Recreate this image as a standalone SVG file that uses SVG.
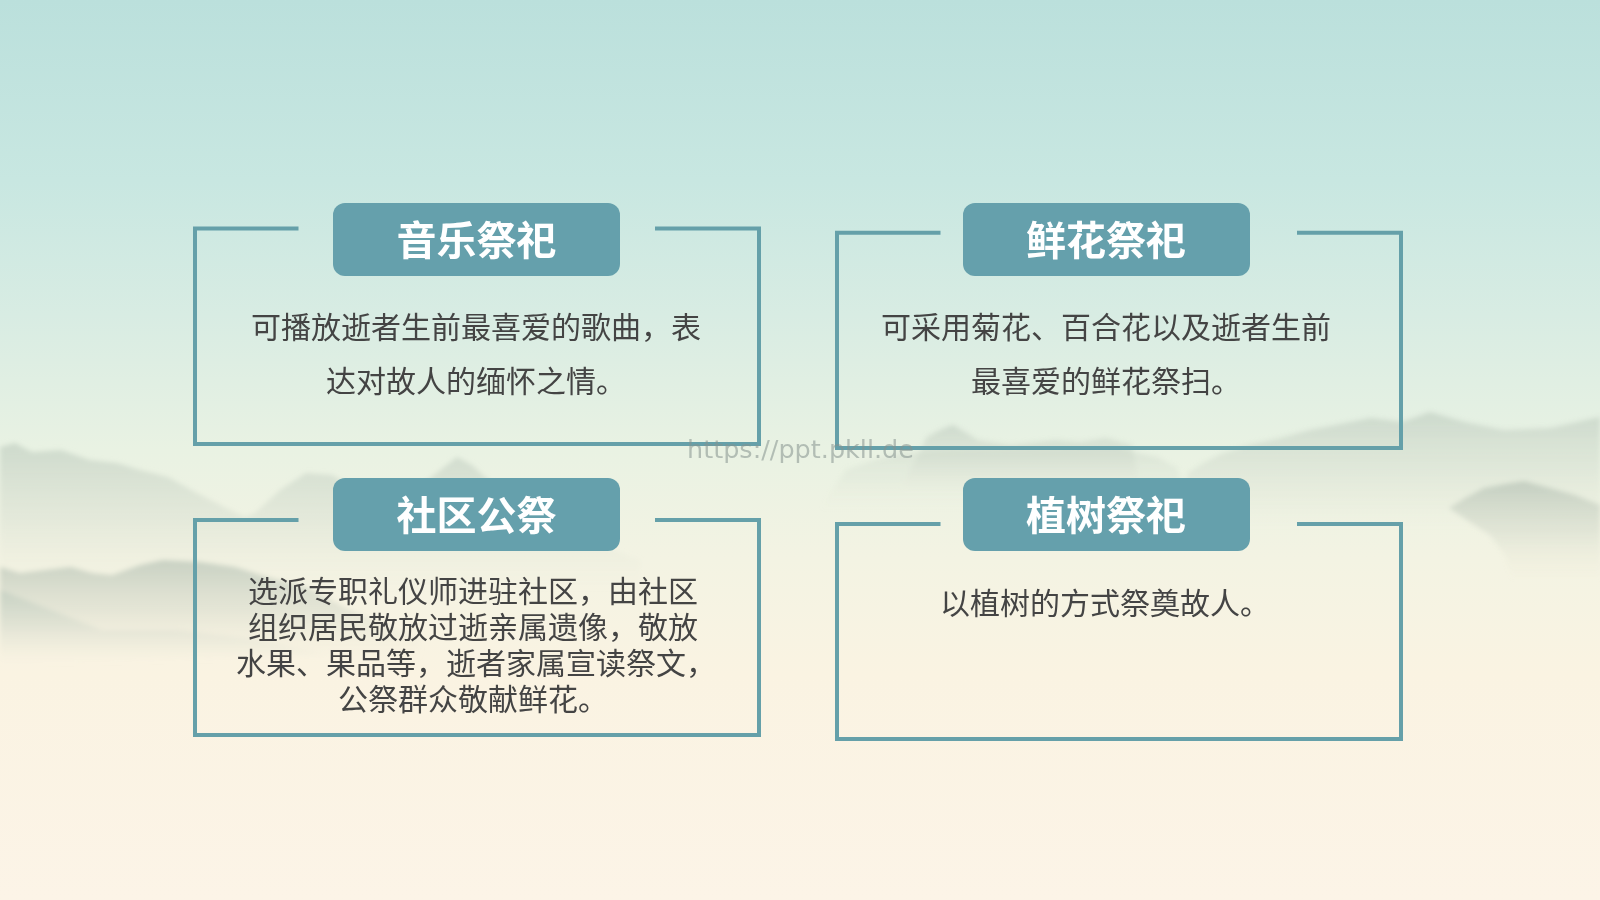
<svg xmlns="http://www.w3.org/2000/svg" width="1600" height="900" viewBox="0 0 1600 900">
  <style>
    .frame { fill: none; stroke: #65a0a9; stroke-width: 4; }
    .pill { fill: #65a0ac; }
    .title { font: 700 40px "Noto Sans CJK SC", sans-serif; fill: #ffffff; text-anchor: middle; }
    .body { font: 400 30px "Noto Sans CJK SC", sans-serif; fill: #444444; text-anchor: middle; }
    .mark { font: 400 25.500px "DejaVu Sans", sans-serif; fill: #85938f; opacity: .55; }
  </style>
  <defs>
    <linearGradient id="sky" x1="0" y1="0" x2="0" y2="1">
      <stop offset="0" stop-color="#bbe0dc"/>
      <stop offset=".2" stop-color="#c8e7e1"/>
      <stop offset=".35" stop-color="#d8ece3"/>
      <stop offset=".5" stop-color="#e9f2e3"/>
      <stop offset=".62" stop-color="#f3f3e3"/>
      <stop offset=".75" stop-color="#faf3e2"/>
      <stop offset="1" stop-color="#fcf4e7"/>
    </linearGradient>
    <linearGradient id="far" x1="0" y1="0" x2="0" y2="1">
      <stop offset="0" stop-color="#bccabd" stop-opacity=".6"/>
      <stop offset=".5" stop-color="#cdd6c9" stop-opacity=".35"/>
      <stop offset="1" stop-color="#e3e6d6" stop-opacity="0"/>
    </linearGradient>
    <linearGradient id="near" x1="0" y1="0" x2="0" y2="1">
      <stop offset="0" stop-color="#b3c0b3" stop-opacity=".65"/>
      <stop offset=".5" stop-color="#c4ccbe" stop-opacity=".35"/>
      <stop offset="1" stop-color="#e9e5d2" stop-opacity="0"/>
    </linearGradient>
    <filter id="soft" x="-5%" y="-10%" width="110%" height="120%"><feGaussianBlur stdDeviation="2.500"/></filter>
  </defs>

  <rect width="1600" height="900" fill="url(#sky)"/>

  <!-- ink-wash hills, left side -->
  <g filter="url(#soft)">
    <path fill="url(#far)" d="M0 447 L15 443 L32 452 L61 450 L90 460 L117 463 L140 470 L168 477 L195 492 L224 507 L245 517 L255 513 L280 490 L306 473 L332 475 L360 490 L400 500 L430 478 L457 457 L472 465 L485 477 L520 505 L560 530 L640 560 L640 590 L0 590 Z"/>
    <path fill="url(#near)" d="M0 567 L20 573 L45 570 L71 567 L92 573 L112 575 L140 565 L163 560 L200 562 L235 567 L270 578 L306 587 L350 610 L420 640 L420 660 L0 660 Z"/>
    <path fill="url(#far)" d="M0 590 L51 610 L102 630 L178 630 L260 640 L330 655 L0 665 Z"/>
  </g>

  <!-- ink-wash hills, right side -->
  <g filter="url(#soft)">
    <path fill="url(#far)" d="M927 437 L940 430 L953 425 L965 432 L978 440 L1010 445 L1055 440 L1080 442 L1106 438 L1132 445 L1140 490 L900 490 Z"/>
    <path fill="url(#far)" opacity=".55" d="M846 470 L875 460 L902 453 L950 450 L1040 449 L1116 448 L1157 457 L1177 468 L1190 510 L820 510 Z"/>
    <path fill="url(#far)" d="M1188 473 L1205 462 L1223 453 L1249 445 L1280 438 L1310 430 L1340 424 L1371 418 L1402 422 L1430 412 L1465 422 L1504 430 L1550 428 L1600 417 L1600 530 L1180 530 Z"/>
    <path fill="url(#near)" d="M1449 508 L1465 498 L1484 488 L1505 484 L1524 481 L1550 488 L1575 495 L1600 505 L1600 580 L1512 580 L1506 556 L1490 535 L1470 522 Z"/>
  </g>

  <g id="connectors">
    <path class="frame" d="M298.500 228.500 H195 V444 H759 V228.500 H655"/>
    <path class="frame" d="M940.500 232.700 H837 V448 H1401 V232.700 H1297"/>
    <path class="frame" d="M298.500 520 H195 V735 H759 V520 H655"/>
    <path class="frame" d="M940.500 524 H837 V739 H1401 V524 H1297"/>
  </g>

  <g id="node-music">
    <rect class="pill" x="333" y="203" width="287" height="73" rx="12"/>
    <text class="title" x="476.500" y="255">音乐祭祀</text>
    <text class="body" x="476" y="338">可播放逝者生前最喜爱的歌曲，表</text>
    <text class="body" x="476" y="392">达对故人的缅怀之情。</text>
  </g>

  <g id="node-flowers">
    <rect class="pill" x="963" y="203" width="287" height="73" rx="12"/>
    <text class="title" x="1106" y="255">鲜花祭祀</text>
    <text class="body" x="1106" y="338">可采用菊花、百合花以及逝者生前</text>
    <text class="body" x="1106" y="392">最喜爱的鲜花祭扫。</text>
  </g>

  <g id="node-community">
    <rect class="pill" x="333" y="478" width="287" height="73" rx="12"/>
    <text class="title" x="476.500" y="530">社区公祭</text>
    <text class="body" x="473" y="602">选派专职礼仪师进驻社区，由社区</text>
    <text class="body" x="473" y="638">组织居民敬放过逝亲属遗像，敬放</text>
    <text class="body" x="476" y="674">水果、果品等，逝者家属宣读祭文，</text>
    <text class="body" x="473" y="710">公祭群众敬献鲜花。</text>
  </g>

  <g id="node-trees">
    <rect class="pill" x="963" y="478" width="287" height="73" rx="12"/>
    <text class="title" x="1106" y="530">植树祭祀</text>
    <text class="body" x="1105" y="614">以植树的方式祭奠故人。</text>
  </g>

  <text class="mark" x="687" y="458">https://ppt.pkll.de</text>
</svg>
